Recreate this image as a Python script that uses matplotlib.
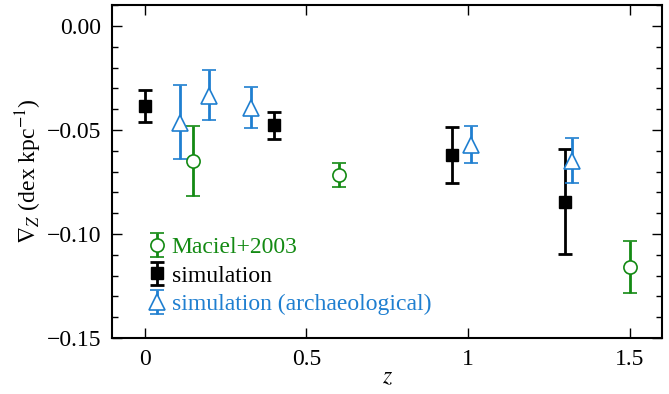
import numpy as np
import matplotlib
matplotlib.use('Agg')
import matplotlib.pyplot as plt
from matplotlib.ticker import MultipleLocator, FixedLocator

plt.rcParams['font.family'] = ['Liberation Serif', 'DejaVu Serif']
plt.rcParams['mathtext.fontset'] = 'stix'

# Maciel+2003
mac_z = [0.15, 0.6, 1.5]
mac_grad = [-0.0648, -0.0718, -0.116]
mac_lo = [0.0167, 0.0057, 0.0125]
mac_hi = [0.0167, 0.0057, 0.0125]

# simulation
sim_z = [0.0, 0.4, 0.95, 1.3]
sim_grad = [-0.0385, -0.0478, -0.0620, -0.0845]
sim_lo = [0.0077, 0.0063, 0.0136, 0.0253]
sim_hi = [0.0075, 0.0064, 0.0136, 0.0253]

# simulation (archaeological)
arc_z = [0.11, 0.2, 0.33, 1.01, 1.32]
arc_grad = [-0.0465, -0.0338, -0.0393, -0.0572, -0.0650]
arc_lo = [0.0175, 0.0114, 0.0097, 0.0087, 0.0106]
arc_hi = [0.0183, 0.0125, 0.0100, 0.0091, 0.0110]

green = '#138a13'
blue = '#1f7fd0'

fig = plt.figure(figsize=(6.69, 3.94), dpi=100)
ax = fig.add_axes([0.168, 0.142, 0.822, 0.845])

ax.errorbar(mac_z, mac_grad, yerr=[mac_lo, mac_hi], fmt='o', color=green,
            mfc='white', mec=green, mew=1.2, ms=9.5, elinewidth=2, capsize=5,
            capthick=2, label='Maciel+2003')
ax.errorbar(sim_z, sim_grad, yerr=[sim_lo, sim_hi], fmt='s', color='black',
            ms=8.5, elinewidth=2, capsize=5, capthick=2, label='simulation')
ax.errorbar(arc_z, arc_grad, yerr=[arc_lo, arc_hi], fmt='^', color=blue,
            mfc='white', mec=blue, mew=1.2, ms=11.5, elinewidth=2, capsize=5,
            capthick=2, label='simulation (archaeological)')

ax.set_xlim(-0.1, 1.6)
ax.set_ylim(-0.15, 0.01)
ax.xaxis.set_major_locator(FixedLocator([0, 0.5, 1, 1.5]))
ax.set_xticklabels(['0', '0.5', '1', '1.5'])
ax.yaxis.set_major_locator(FixedLocator([-0.15, -0.10, -0.05, 0.0]))
ax.set_yticklabels(['\u22120.15', '\u22120.10', '\u22120.05', '0.00'])
ax.yaxis.set_minor_locator(MultipleLocator(0.01))

ax.tick_params(which='both', direction='in', top=True, right=True, labelsize=17)
ax.tick_params(which='major', length=7, width=1)
ax.tick_params(which='minor', length=4, width=1)
ax.tick_params(axis='x', pad=8)
ax.tick_params(axis='y', pad=8)
for s in ax.spines.values():
    s.set_linewidth(1.5)

ax.set_xlabel('$z$', fontsize=17, labelpad=-2)
ax.set_ylabel(r'$\nabla_Z$ (dex kpc$^{-1}$)', fontsize=17, labelpad=2)

leg = ax.legend(loc='upper left', bbox_to_anchor=(0.069, 0.305), frameon=False,
                fontsize=17, handlelength=0.6, handletextpad=0.3,
                labelspacing=0.3, borderaxespad=0, borderpad=0)
for txt, c in zip(leg.get_texts(), [green, 'black', blue]):
    txt.set_color(c)

fig.savefig('out.png', dpi=100)
